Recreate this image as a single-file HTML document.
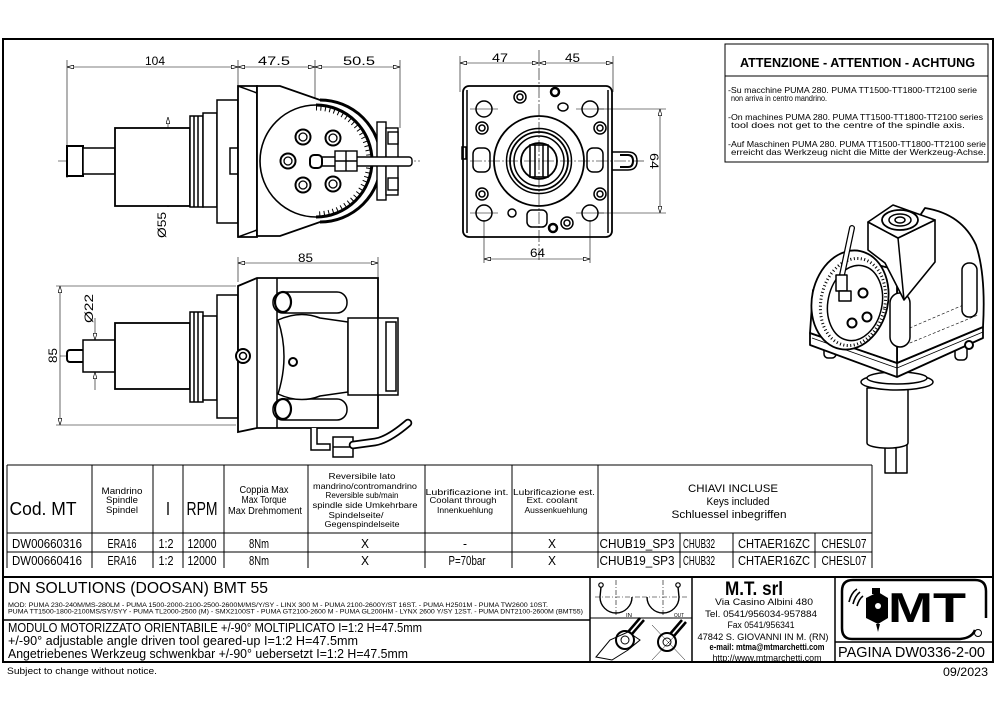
<!DOCTYPE html>
<html><head><meta charset="utf-8"><style>
html,body{margin:0;padding:0;background:#fff;}
svg{display:block;}
text{font-family:"Liberation Sans",sans-serif;fill:#000;}
</style></head><body>
<svg width="1000" height="707" viewBox="0 0 1000 707" xmlns="http://www.w3.org/2000/svg">
<defs>
<marker id="ar" viewBox="0 0 10 6" refX="10" refY="3" markerWidth="7" markerHeight="4" orient="auto-start-reverse" markerUnits="userSpaceOnUse"><path d="M0,0 L10,3 L0,6 Z" fill="#fff" stroke="#000" stroke-width="1"/></marker>
</defs>
<rect width="1000" height="707" fill="#fff"/>

<!-- FRAME -->
<path d="M3,662 L3,39 L993,39 L993,662 Z" fill="none" stroke="#000" stroke-width="2"/>

<!-- ===== VIEW 1 (top-left) ===== -->
<g stroke="#000" fill="none">
  <g stroke-width="0.6">
    <line x1="67" y1="60" x2="67" y2="178"/>
    <line x1="238" y1="60" x2="238" y2="86"/>
    <line x1="315" y1="60" x2="315" y2="105"/>
    <line x1="400" y1="60" x2="400" y2="128"/>
    <line x1="67" y1="67" x2="238" y2="67" marker-start="url(#ar)" marker-end="url(#ar)"/>
    <line x1="238" y1="67" x2="315" y2="67" marker-start="url(#ar)" marker-end="url(#ar)"/>
    <line x1="315" y1="67" x2="400" y2="67" marker-start="url(#ar)" marker-end="url(#ar)"/>
    <line x1="168" y1="117" x2="168" y2="207" marker-start="url(#ar)" marker-end="url(#ar)"/>
    <line x1="58" y1="161" x2="420" y2="161" stroke-dasharray="12 2 2 2"/>
    <line x1="316" y1="105" x2="316" y2="217" stroke-dasharray="12 2 2 2"/>
  </g>
  <g stroke-width="1.5" fill="#fff">
    <rect x="67" y="146" width="16" height="30" stroke-width="2"/>
    <rect x="83" y="148" width="32" height="26"/>
    <rect x="115" y="128" width="75" height="78" stroke-width="1.8"/>
    <rect x="190" y="116" width="13" height="91"/>
    <line x1="194" y1="116" x2="194" y2="207"/>
    <line x1="198" y1="116" x2="198" y2="207"/>
    <rect x="203" y="113" width="14" height="94"/>
    <rect x="217" y="100" width="21" height="123"/>
    <rect x="230" y="148" width="8" height="26"/>
    <path d="M238,86 L257,86 L257,237 L238,237 Z" stroke-width="1.8"/>
    <path d="M238,86 L257,93 M238,237 L257,230"/>
    <path d="M257,86 L280,86 L320,100 A61,61 0 0 1 320,222 L280,236 L257,236 Z" stroke-width="1.8"/>
    <path d="M320,100 A61,61 0 0 1 320,222" stroke-width="3"/>
    <circle cx="316" cy="161" r="56" stroke-width="1.6"/>
  </g>
  <path d="M316,105 A56,56 0 0 1 316,217" stroke-width="3"/>
  <path d="M316,108 A53,53 0 0 1 316,214" stroke-width="5" stroke-dasharray="1 3.5"/>
  <g stroke-width="2" fill="#fff">
    <circle cx="303" cy="137" r="7.5"/><circle cx="303" cy="137" r="4" stroke-width="1.3"/>
    <circle cx="333" cy="138" r="7.5"/><circle cx="333" cy="138" r="4" stroke-width="1.3"/>
    <circle cx="288" cy="161" r="7.5"/><circle cx="288" cy="161" r="4" stroke-width="1.3"/>
    <circle cx="303" cy="185" r="7.5"/><circle cx="303" cy="185" r="4" stroke-width="1.3"/>
    <circle cx="333" cy="184" r="7.5"/><circle cx="333" cy="184" r="4" stroke-width="1.3"/>
  </g>
  <g stroke-width="1.4" fill="#fff">
    <rect x="377" y="122" width="9" height="78"/>
    <rect x="386" y="128" width="12" height="67"/>
    <rect x="388" y="132" width="10" height="12"/>
    <rect x="388" y="178" width="10" height="12"/>
    <rect x="310" y="157" width="102" height="9" rx="3"/>
    <rect x="310" y="155" width="12" height="13" rx="4" stroke-width="2"/>
    <rect x="335" y="151" width="22" height="20"/>
    <line x1="346" y1="151" x2="346" y2="171"/>
    <line x1="335" y1="161" x2="357" y2="161"/>
  </g>
</g>
<text x="145" y="65" font-size="12" textLength="20" lengthAdjust="spacingAndGlyphs">104</text>
<text x="258" y="65" font-size="12" textLength="32" lengthAdjust="spacingAndGlyphs">47.5</text>
<text x="343" y="65" font-size="12" textLength="32" lengthAdjust="spacingAndGlyphs">50.5</text>
<text transform="translate(166,238) rotate(-90)" font-size="12" textLength="26" lengthAdjust="spacingAndGlyphs">Ø55</text>

<!-- ===== VIEW 2 (bottom-left) ===== -->
<g stroke="#000" fill="none">
  <g stroke-width="0.6">
    <line x1="238" y1="257" x2="238" y2="282"/>
    <line x1="378" y1="257" x2="378" y2="278"/>
    <line x1="238" y1="263" x2="378" y2="263" marker-start="url(#ar)" marker-end="url(#ar)"/>
    <line x1="56" y1="286" x2="236" y2="286"/>
    <line x1="56" y1="425" x2="236" y2="425"/>
    <line x1="60" y1="286" x2="60" y2="425" marker-start="url(#ar)" marker-end="url(#ar)"/>
    <line x1="95" y1="318" x2="95" y2="340" marker-end="url(#ar)"/>
    <line x1="95" y1="390" x2="95" y2="372" marker-end="url(#ar)"/>
    <line x1="60" y1="356" x2="350" y2="356" stroke-dasharray="12 2 2 2"/>
    <line x1="315" y1="305" x2="315" y2="430" stroke-dasharray="5 3"/>
  </g>
  <g stroke-width="1.5" fill="#fff">
    <rect x="67" y="350" width="18" height="12" rx="3" stroke-width="2"/>
    <rect x="83" y="340" width="32" height="32"/>
    <rect x="115" y="323" width="75" height="66" stroke-width="1.8"/>
    <rect x="190" y="312" width="13" height="90"/>
    <line x1="194" y1="312" x2="194" y2="402"/>
    <line x1="198" y1="312" x2="198" y2="402"/>
    <rect x="203" y="316" width="14" height="84"/>
    <rect x="217" y="295" width="21" height="123"/>
    <path d="M238,286 L257,278 L378,278 L378,428 L257,428 L238,432 Z" stroke-width="1.8"/>
    <line x1="257" y1="278" x2="257" y2="428"/>
    <line x1="277" y1="278" x2="277" y2="428"/>
    <rect x="273" y="292" width="74" height="21" rx="10" stroke-width="1.5"/>
    <rect x="273" y="399" width="74" height="21" rx="10" stroke-width="1.5"/>
    <ellipse cx="283" cy="302" rx="8" ry="10" stroke-width="2.2"/>
    <ellipse cx="283" cy="409" rx="8" ry="10" stroke-width="2.2"/>
    <path d="M278,320 Q300,310 320,318 L348,322 L348,392 L320,396 Q300,404 278,394 Q290,356 278,320 Z"/>
    <rect x="348" y="318" width="30" height="77"/>
    <rect x="378" y="318" width="20" height="77"/>
    <rect x="386" y="322" width="10" height="69"/>
    <circle cx="243" cy="356" r="7" stroke-width="2"/>
    <circle cx="243" cy="356" r="3.5"/>
    <circle cx="293" cy="362" r="4" stroke-width="2"/>
    <path d="M311,428 L311,450 L330,450 L330,444 L317,444 L317,428"/>
    <rect x="333" y="437" width="20" height="20"/>
    <line x1="333" y1="447" x2="353" y2="447"/>
  </g>
  <path d="M353,445 L375,442 Q388,440 408,423" stroke-width="8.5" stroke-linecap="round"/>
  <path d="M353,445 L375,442 Q388,440 408,423" stroke="#fff" stroke-width="5" stroke-linecap="round"/>
</g>
<text x="298" y="262" font-size="12" textLength="15" lengthAdjust="spacingAndGlyphs">85</text>
<text transform="translate(57,363) rotate(-90)" font-size="12" textLength="15" lengthAdjust="spacingAndGlyphs">85</text>
<text transform="translate(93,323) rotate(-90)" font-size="12" textLength="29" lengthAdjust="spacingAndGlyphs">Ø22</text>

<!-- ===== VIEW 3 (front) ===== -->
<g stroke="#000" fill="none">
  <g stroke-width="0.6">
    <line x1="460" y1="56" x2="460" y2="92"/>
    <line x1="613" y1="56" x2="613" y2="92"/>
    <line x1="460" y1="63" x2="539" y2="63" marker-start="url(#ar)" marker-end="url(#ar)"/>
    <line x1="539" y1="63" x2="613" y2="63" marker-start="url(#ar)" marker-end="url(#ar)"/>
    <line x1="539" y1="50" x2="539" y2="262" stroke-dasharray="12 2 2 2"/>
    <line x1="470" y1="161" x2="645" y2="161" stroke-dasharray="12 2 2 2"/>
    <line x1="598" y1="109" x2="666" y2="109"/>
    <line x1="598" y1="213" x2="666" y2="213"/>
    <line x1="660" y1="109" x2="660" y2="213" marker-start="url(#ar)" marker-end="url(#ar)"/>
    <line x1="484" y1="220" x2="484" y2="263"/>
    <line x1="590" y1="220" x2="590" y2="263"/>
    <line x1="484" y1="259" x2="590" y2="259" marker-start="url(#ar)" marker-end="url(#ar)"/>
    <line x1="470" y1="109" x2="498" y2="109"/><line x1="576" y1="109" x2="604" y2="109"/>
    <line x1="470" y1="213" x2="498" y2="213"/><line x1="576" y1="213" x2="604" y2="213"/>
  </g>
  <g stroke-width="1.5" fill="none">
    <rect x="463" y="86" width="149" height="151" rx="6" stroke-width="1.8"/>
    <line x1="467" y1="90" x2="467" y2="233"/>
    <line x1="608" y1="90" x2="608" y2="233"/>
    <circle cx="539" cy="161" r="45" stroke-width="1.8"/>
    <circle cx="539" cy="161" r="32.5"/>
    <circle cx="539" cy="161" r="29" stroke-width="1.8"/>
    <circle cx="539" cy="161" r="25"/>
    <circle cx="539" cy="161" r="18" stroke-width="1.8"/>
    <rect x="530" y="145" width="18" height="32" stroke-width="1.6"/>
    <line x1="535" y1="145" x2="535" y2="177"/>
    <line x1="543" y1="145" x2="543" y2="177"/>
    <circle cx="484" cy="109" r="8"/><circle cx="590" cy="109" r="8"/>
    <circle cx="484" cy="213" r="8"/><circle cx="590" cy="213" r="8"/>
    <circle cx="482" cy="128" r="6"/><circle cx="482" cy="128" r="3"/>
    <circle cx="600" cy="128" r="6"/><circle cx="600" cy="128" r="3"/>
    <circle cx="482" cy="194" r="6"/><circle cx="482" cy="194" r="3"/>
    <circle cx="600" cy="194" r="6"/><circle cx="600" cy="194" r="3"/>
    <circle cx="520" cy="97" r="6"/><circle cx="520" cy="97" r="3"/>
    <circle cx="555" cy="92" r="4" stroke-width="2.5"/>
    <ellipse cx="563" cy="107" rx="5" ry="4"/>
    <circle cx="512" cy="213" r="4"/>
    <rect x="527" y="210" width="20" height="17" rx="5"/>
    <circle cx="553" cy="228" r="4" stroke-width="2.5"/>
    <circle cx="567" cy="223" r="6"/><circle cx="567" cy="223" r="3"/>
    <rect x="473" y="148" width="17" height="24" rx="6"/>
    <rect x="587" y="148" width="16" height="24" rx="6"/>
    <path d="M612,152 L628,152 Q637,152 637,161 Q637,170 628,170 L612,170"/>
    <path d="M620,155 L628,155 Q633,155 633,161 Q633,167 628,167 L620,167" stroke-width="2"/>
    <rect x="462" y="147" width="4" height="12"/>
  </g>
</g>
<text x="492" y="62" font-size="12" textLength="16" lengthAdjust="spacingAndGlyphs">47</text>
<text x="565" y="62" font-size="12" textLength="15" lengthAdjust="spacingAndGlyphs">45</text>
<text transform="translate(650,153) rotate(90)" font-size="12" textLength="16" lengthAdjust="spacingAndGlyphs">64</text>
<text x="530" y="257" font-size="12" textLength="15" lengthAdjust="spacingAndGlyphs">64</text>

<!-- ===== ATTENTION BOX ===== -->
<rect x="725" y="44" width="263" height="118" fill="none" stroke="#000" stroke-width="1"/>
<line x1="725" y1="76" x2="988" y2="76" stroke="#000" stroke-width="1"/>
<text x="740" y="67" font-size="13" font-weight="bold" textLength="235" lengthAdjust="spacingAndGlyphs">ATTENZIONE - ATTENTION - ACHTUNG</text>
<g font-size="8.5">
<text x="728" y="93" textLength="249" lengthAdjust="spacingAndGlyphs">-Su macchine PUMA 280. PUMA TT1500-TT1800-TT2100 serie</text>
<text x="731" y="101" textLength="96" lengthAdjust="spacingAndGlyphs">non arriva in centro mandrino.</text>
<text x="728" y="120" textLength="255" lengthAdjust="spacingAndGlyphs">-On machines PUMA 280. PUMA TT1500-TT1800-TT2100 series</text>
<text x="731" y="128" textLength="234" lengthAdjust="spacingAndGlyphs">tool does not get to the centre of the spindle axis.</text>
<text x="728" y="147" textLength="258" lengthAdjust="spacingAndGlyphs">-Auf Maschinen PUMA 280. PUMA TT1500-TT1800-TT2100 serie</text>
<text x="731" y="155" textLength="255" lengthAdjust="spacingAndGlyphs">erreicht das Werkzeug nicht die Mitte der Werkzeug-Achse.</text>
</g>

<!-- ===== 3D VIEW ===== -->
<g stroke="#000" stroke-width="1.5" fill="#fff" stroke-linejoin="round">
  <rect x="885" y="440" width="22" height="33"/>
  <line x1="896" y1="440" x2="896" y2="473"/>
  <path d="M867,388 L867,443 A20,5 0 0 0 908,443 L908,388 Z"/>
  <ellipse cx="897" cy="382" rx="36" ry="8"/>
  <ellipse cx="897" cy="378" rx="30" ry="6"/>
  <rect x="824" y="343" width="12" height="15" rx="4"/>
  <rect x="955" y="345" width="12" height="15" rx="4"/>
  <path d="M810,333 L897,363 L983,327 L983,338 L897,377 L810,345 Z" stroke-width="1.8"/>
  <path d="M812,338 L897,368 L983,332" fill="none" stroke-width="0.8"/>
  <line x1="897" y1="363" x2="897" y2="377"/>
  <path d="M897,270 L905,238 L925,208 Q962,214 976,245 Q986,275 983,327 L897,363 Z" stroke-width="1.8"/>
  <path d="M905,330 L975,300 M905,345 L978,315" fill="none" stroke-width="0.6" stroke-dasharray="3 2"/>
  <path d="M810,333 L813,290 L866,262 L897,270 L897,363 Z" stroke-width="1.8"/>
  <ellipse cx="850" cy="300" rx="38" ry="50" transform="rotate(12 850 300)" stroke-width="1.8"/>
  <ellipse cx="853" cy="302" rx="32" ry="44" transform="rotate(12 853 302)" stroke-dasharray="1 2.5" stroke-width="3" fill="none"/>
  <ellipse cx="855" cy="303" rx="27" ry="38" transform="rotate(12 855 303)"/>
  <circle cx="863" cy="293" r="4.5" stroke-width="2"/>
  <circle cx="867" cy="317" r="4.5" stroke-width="2"/>
  <circle cx="852" cy="323" r="4.5" stroke-width="2"/>
  <rect x="890" y="293" width="20" height="54" rx="10"/>
  <rect x="962" y="263" width="15" height="54" rx="7"/>
  <circle cx="969" cy="345" r="4" stroke-width="2"/>
  <path d="M868,222 L898,238 L935,220 L935,262 L904,300 L885,263 L868,250 Z" stroke-width="1.6"/>
  <line x1="898" y1="238" x2="904" y2="300"/>
  <path d="M868,222 L893,205 L935,220 L898,238 Z" stroke-width="1.6"/>
  <ellipse cx="900" cy="220" rx="18" ry="10" stroke-width="1.8"/>
  <ellipse cx="900" cy="220" rx="11" ry="6"/>
  <ellipse cx="900" cy="220" rx="5" ry="3"/>
  <path d="M852,228 L842,275" stroke-width="6" stroke-linecap="round" fill="none"/>
  <path d="M852,228 L842,275" stroke="#fff" stroke-width="3.5" stroke-linecap="round" fill="none"/>
  <rect x="836" y="275" width="11" height="16"/>
  <rect x="839" y="291" width="12" height="10"/>
</g>

<!-- ===== TABLE ===== -->
<g stroke="#000" stroke-width="1" fill="none">
  <path d="M7,465 L872,465 M7,533 L872,533 M7,552 L872,552 M7,465 L7,568 M872,465 L872,568"/>
  <path d="M92,465 L92,568 M153,465 L153,568 M183,465 L183,568 M224,465 L224,568 M308,465 L308,568 M425,465 L425,568 M512,465 L512,568 M598,465 L598,568 M680,533 L680,568 M733,533 L733,568 M815,533 L815,568"/>
</g>
<g text-anchor="middle">
<text x="43" y="515" font-size="18" textLength="67" lengthAdjust="spacingAndGlyphs">Cod. MT</text>
<text x="122" y="494" font-size="9.5" textLength="41" lengthAdjust="spacingAndGlyphs">Mandrino</text>
<text x="122" y="503" font-size="9.5" textLength="32" lengthAdjust="spacingAndGlyphs">Spindle</text>
<text x="122" y="513" font-size="9.5" textLength="32" lengthAdjust="spacingAndGlyphs">Spindel</text>
<text x="168" y="515" font-size="18" textLength="4" lengthAdjust="spacingAndGlyphs">I</text>
<text x="202" y="515" font-size="18" textLength="31" lengthAdjust="spacingAndGlyphs">RPM</text>
<text x="264" y="493" font-size="10" textLength="49" lengthAdjust="spacingAndGlyphs">Coppia Max</text>
<text x="264" y="503" font-size="10" textLength="45" lengthAdjust="spacingAndGlyphs">Max Torque</text>
<text x="265" y="514" font-size="10" textLength="74" lengthAdjust="spacingAndGlyphs">Max Drehmoment</text>
<text x="362" y="479" font-size="8.5" textLength="67" lengthAdjust="spacingAndGlyphs">Reversibile lato</text>
<text x="365" y="489" font-size="8.5" textLength="104" lengthAdjust="spacingAndGlyphs">mandrino/contromandrino</text>
<text x="362" y="498" font-size="8.5" textLength="73" lengthAdjust="spacingAndGlyphs">Reversible sub/main</text>
<text x="365" y="508" font-size="8.5" textLength="105" lengthAdjust="spacingAndGlyphs">spindle side Umkehrbare</text>
<text x="356" y="518" font-size="8.5" textLength="55" lengthAdjust="spacingAndGlyphs">Spindelseite/</text>
<text x="362" y="527" font-size="8.5" textLength="75" lengthAdjust="spacingAndGlyphs">Gegenspindelseite</text>
<text x="467" y="495" font-size="8.5" textLength="83" lengthAdjust="spacingAndGlyphs">Lubrificazione int.</text>
<text x="463" y="503" font-size="8.5" textLength="67" lengthAdjust="spacingAndGlyphs">Coolant through</text>
<text x="465" y="513" font-size="8.5" textLength="56" lengthAdjust="spacingAndGlyphs">Innenkuehlung</text>
<text x="554" y="495" font-size="8.5" textLength="82" lengthAdjust="spacingAndGlyphs">Lubrificazione est.</text>
<text x="552" y="503" font-size="8.5" textLength="51" lengthAdjust="spacingAndGlyphs">Ext. coolant</text>
<text x="556" y="513" font-size="8.5" textLength="63" lengthAdjust="spacingAndGlyphs">Aussenkuehlung</text>
<text x="733" y="492" font-size="11" textLength="90" lengthAdjust="spacingAndGlyphs">CHIAVI INCLUSE</text>
<text x="738" y="505" font-size="11" textLength="63" lengthAdjust="spacingAndGlyphs">Keys included</text>
<text x="729" y="518" font-size="11" textLength="115" lengthAdjust="spacingAndGlyphs">Schluessel inbegriffen</text>
</g>
<g font-size="12.5" text-anchor="middle">
<text x="47" y="548" textLength="70" lengthAdjust="spacingAndGlyphs">DW00660316</text>
<text x="122" y="548" textLength="29" lengthAdjust="spacingAndGlyphs">ERA16</text>
<text x="166" y="548" textLength="15" lengthAdjust="spacingAndGlyphs">1:2</text>
<text x="202" y="548" textLength="29" lengthAdjust="spacingAndGlyphs">12000</text>
<text x="259" y="548" textLength="20" lengthAdjust="spacingAndGlyphs">8Nm</text>
<text x="365" y="548" textLength="8" lengthAdjust="spacingAndGlyphs">X</text>
<text x="465" y="548" textLength="4" lengthAdjust="spacingAndGlyphs">-</text>
<text x="552" y="548" textLength="8" lengthAdjust="spacingAndGlyphs">X</text>
<text x="637" y="548" textLength="75" lengthAdjust="spacingAndGlyphs">CHUB19_SP3</text>
<text x="699" y="548" textLength="32" lengthAdjust="spacingAndGlyphs">CHUB32</text>
<text x="774" y="548" textLength="72" lengthAdjust="spacingAndGlyphs">CHTAER16ZC</text>
<text x="844" y="548" textLength="45" lengthAdjust="spacingAndGlyphs">CHESL07</text>
<text x="47" y="565" textLength="70" lengthAdjust="spacingAndGlyphs">DW00660416</text>
<text x="122" y="565" textLength="29" lengthAdjust="spacingAndGlyphs">ERA16</text>
<text x="166" y="565" textLength="15" lengthAdjust="spacingAndGlyphs">1:2</text>
<text x="202" y="565" textLength="29" lengthAdjust="spacingAndGlyphs">12000</text>
<text x="259" y="565" textLength="20" lengthAdjust="spacingAndGlyphs">8Nm</text>
<text x="365" y="565" textLength="8" lengthAdjust="spacingAndGlyphs">X</text>
<text x="467" y="565" textLength="37" lengthAdjust="spacingAndGlyphs">P=70bar</text>
<text x="552" y="565" textLength="8" lengthAdjust="spacingAndGlyphs">X</text>
<text x="637" y="565" textLength="75" lengthAdjust="spacingAndGlyphs">CHUB19_SP3</text>
<text x="699" y="565" textLength="32" lengthAdjust="spacingAndGlyphs">CHUB32</text>
<text x="774" y="565" textLength="72" lengthAdjust="spacingAndGlyphs">CHTAER16ZC</text>
<text x="844" y="565" textLength="45" lengthAdjust="spacingAndGlyphs">CHESL07</text>
</g>

<!-- ===== TITLE BLOCK ===== -->
<g stroke="#000" fill="none">
  <line x1="3" y1="577" x2="993" y2="577" stroke-width="2"/>
  <line x1="590" y1="577" x2="590" y2="662" stroke-width="1.5"/>
  <line x1="692" y1="577" x2="692" y2="662" stroke-width="1.5"/>
  <line x1="835" y1="577" x2="835" y2="662" stroke-width="1.5"/>
  <line x1="3" y1="620" x2="590" y2="620" stroke-width="1.5"/>
  <line x1="590" y1="618" x2="692" y2="618" stroke-width="1"/>
  <line x1="835" y1="642" x2="993" y2="642" stroke-width="1.5"/>
  <path d="M975,630 Q972,638 960,639 L852,639 Q842,639 842,628 L842,591 Q842,580 853,580 L975,580 Q986,580 986,591 L986,618" stroke-width="2.5"/>
  <!-- IN / OUT symbols -->
  <g stroke-width="0.6" stroke-dasharray="5 2 1 2">
    <line x1="616" y1="580" x2="616" y2="615"/>
    <line x1="595" y1="597" x2="640" y2="597"/>
    <line x1="663" y1="580" x2="663" y2="615"/>
    <line x1="642" y1="597" x2="688" y2="597"/>
  </g>
  <path d="M601,587 L600,597 A16,16 0 0 0 632,597" stroke-width="1.4"/>
  <circle cx="601" cy="585" r="2.2" stroke-width="1.2"/>
  <path d="M678,587 L679,597 A16,16 0 0 1 647,597" stroke-width="1.4"/>
  <circle cx="678" cy="585" r="2.2" stroke-width="1.2"/>
  <!-- wrench icons -->
  <g stroke-width="1">
    <path d="M596,657 L610,640 L628,632 L640,640 L628,650 L612,660 Z"/>
    <circle cx="625" cy="640" r="9" stroke-width="2"/>
    <circle cx="625" cy="640" r="4"/>
    <path d="M628,632 L640,618 M632,634 L644,620" stroke-width="2.5"/>
    <circle cx="667" cy="642" r="9" stroke-width="2"/>
    <circle cx="667" cy="642" r="4"/>
    <path d="M670,634 L682,620 M674,636 L686,622" stroke-width="2.5"/>
    <path d="M652,625 L685,660 M652,660 L685,625" stroke-width="0.5"/>
  </g>
</g>
<text x="8" y="593" font-size="16" textLength="260" lengthAdjust="spacingAndGlyphs">DN SOLUTIONS (DOOSAN)  BMT 55</text>
<text x="8" y="607" font-size="6" textLength="540" lengthAdjust="spacingAndGlyphs">MOD: PUMA 230-240M/MS-280LM - PUMA 1500-2000-2100-2500-2600M/MS/Y/SY - LINX 300 M - PUMA 2100-2600Y/ST 16ST. - PUMA H2501M - PUMA TW2600 10ST.</text>
<text x="8" y="613.5" font-size="6" textLength="575" lengthAdjust="spacingAndGlyphs">PUMA TT1500-1800-2100MS/SY/SYY - PUMA TL2000-2500 (M) - SMX2100ST - PUMA GT2100-2600 M - PUMA GL200HM - LYNX 2600 Y/SY 12ST. - PUMA DNT2100-2600M (BMT55)</text>
<text x="8" y="632" font-size="12.5" textLength="414" lengthAdjust="spacingAndGlyphs">MODULO MOTORIZZATO ORIENTABILE +/-90° MOLTIPLICATO I=1:2 H=47.5mm</text>
<text x="8" y="645" font-size="12.5" textLength="350" lengthAdjust="spacingAndGlyphs">+/-90° adjustable angle driven tool geared-up I=1:2 H=47.5mm</text>
<text x="8" y="658" font-size="12.5" textLength="400" lengthAdjust="spacingAndGlyphs">Angetriebenes Werkzeug schwenkbar +/-90° uebersetzt I=1:2 H=47.5mm</text>
<text x="626" y="617" font-size="5" textLength="6" lengthAdjust="spacingAndGlyphs">IN</text>
<text x="674" y="617" font-size="5" textLength="10" lengthAdjust="spacingAndGlyphs">OUT</text>
<g text-anchor="middle">
<text x="754" y="595" font-size="19" font-weight="bold" textLength="58" lengthAdjust="spacingAndGlyphs">M.T. srl</text>
<text x="764" y="605" font-size="9" textLength="98" lengthAdjust="spacingAndGlyphs">Via Casino Albini 480</text>
<text x="761" y="617" font-size="9" textLength="112" lengthAdjust="spacingAndGlyphs">Tel. 0541/956034-957884</text>
<text x="761" y="628" font-size="9" textLength="67" lengthAdjust="spacingAndGlyphs">Fax 0541/956341</text>
<text x="763" y="640" font-size="9" textLength="131" lengthAdjust="spacingAndGlyphs">47842 S. GIOVANNI IN M. (RN)</text>
<text x="767" y="650" font-size="9" font-weight="bold" textLength="115" lengthAdjust="spacingAndGlyphs">e-mail: mtma@mtmarchetti.com</text>
<text x="767" y="661" font-size="9" textLength="109" lengthAdjust="spacingAndGlyphs">http://www.mtmarchetti.com</text>
</g>
<!-- logo -->
<g>
  <path d="M849,602 Q851,593 857,589 M853,604 Q855,596 860,592 M857,606 Q859,599 863,596" stroke="#000" stroke-width="1.6" fill="none"/>
  <path d="M866,598 L878,592 L888,598 L888,618 L878,624 L866,618 Z" fill="#000"/>
  <rect x="872" y="588" width="8" height="6" fill="#000"/>
  <path d="M876,624 L878,632 L880,624" fill="#000"/>
  <circle cx="878" cy="606" r="3" fill="#fff"/>
  <text x="888" y="622" font-size="42" font-weight="bold" textLength="78" lengthAdjust="spacingAndGlyphs">MT</text>
  <circle cx="978" cy="633" r="3.5" fill="none" stroke="#000" stroke-width="1"/>
</g>
<text x="838" y="657" font-size="15" textLength="147" lengthAdjust="spacingAndGlyphs">PAGINA DW0336-2-00</text>
<text x="7" y="674" font-size="9" textLength="150" lengthAdjust="spacingAndGlyphs">Subject to change without notice.</text>
<text x="943" y="676" font-size="12" textLength="45" lengthAdjust="spacingAndGlyphs">09/2023</text>
</svg>
</body></html>
